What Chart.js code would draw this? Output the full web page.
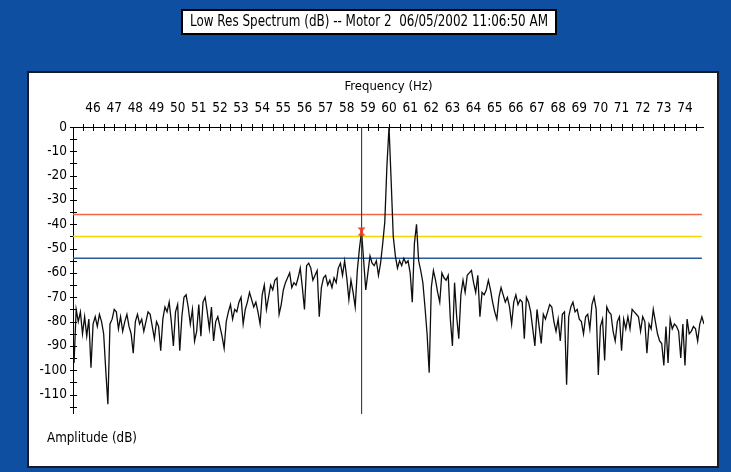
<!DOCTYPE html>
<html>
<head>
<meta charset="utf-8">
<script src="https://cdn.jsdelivr.net/npm/chart.js@4.4.1/dist/chart.umd.min.js"></script>
<style>
  html, body { margin: 0; padding: 0; background: #0f4fa2; overflow: hidden; }
  #wrap { width: 731px; height: 472px; }
  canvas { display: block; }
</style>
</head>
<body>
<div id="wrap"><canvas id="spectrum" width="731" height="472"></canvas></div>
<script>
// ---- chart text ----
const chartTitle = 'Low Res Spectrum (dB) -- Motor 2  06/05/2002 11:06:50 AM';
const xAxisTitle = 'Frequency (Hz)';
const yAxisTitle = 'Amplitude (dB)';

// ---- axis ticks ----
const freqTickLabels = [46, 47, 48, 49, 50, 51, 52, 53, 54, 55, 56, 57, 58, 59, 60,
                        61, 62, 63, 64, 65, 66, 67, 68, 69, 70, 71, 72, 73, 74];
const ampTickLabels = [0, -10, -20, -30, -40, -50, -60, -70, -80, -90, -100, -110];
const freqRangeHz = [45.05, 74.9];
const ampRangeDb = [-118, 0];

// ---- spectrum: 0.1 Hz bins starting at 45.1 Hz ----
const firstBinHz = 45.1;
const binWidthHz = 0.1;
const amplitudeDb = [
  -97, -75, -80, -76, -85, -78, -86, -79, -99, -81,
  -78, -82, -77, -80, -85, -100, -114, -81, -79, -75,
  -76, -83, -78, -84, -80, -77, -82, -85, -93, -80,
  -77, -81, -79, -84, -80, -76, -77, -82, -87, -80,
  -82, -92, -79, -74, -76, -72, -80, -90, -76, -73,
  -92, -78, -70, -69, -74, -81, -75, -88, -84, -73,
  -86, -72, -70, -76, -83, -74, -88, -80, -78, -82,
  -86, -91, -80, -76, -73, -79, -75, -76, -72, -70,
  -81, -75, -72, -68, -71, -74, -72, -76, -81, -69,
  -65, -75, -70, -65, -67, -63, -62, -77, -73, -67,
  -64, -62, -60, -66, -64, -65, -62, -58, -66, -75,
  -57, -56, -58, -63, -61, -59, -78, -66, -62, -61,
  -65, -63, -66, -62, -64, -58, -56, -61, -55, -62,
  -71, -63, -68, -74, -59, -50, -43, -55, -67, -60,
  -53, -56, -57, -55, -61, -56, -48, -39, -16, 0,
  -22, -45, -53, -58, -55, -57, -54, -56, -55, -60,
  -72, -48, -40, -55, -59, -64, -74, -85, -101, -66,
  -59, -63, -68, -72, -60, -62, -63, -61, -79, -90,
  -64, -78, -87, -69, -63, -68, -61, -60, -59, -64,
  -68, -61, -78, -68, -69, -67, -63, -67, -72, -76,
  -79, -70, -66, -69, -72, -70, -74, -81, -72, -69,
  -73, -71, -72, -87, -70, -72, -76, -83, -90, -75,
  -82, -89, -77, -79, -76, -73, -74, -80, -84, -79,
  -88, -77, -76, -106, -78, -74, -72, -76, -75, -79,
  -80, -85, -78, -77, -83, -73, -70, -75, -102, -82,
  -79, -96, -74, -76, -77, -84, -88, -80, -78, -92,
  -79, -83, -78, -83, -75, -76, -77, -78, -84, -78,
  -80, -93, -81, -83, -75, -80, -85, -88, -89, -98,
  -82, -97, -79, -83, -81, -82, -84, -95, -81, -98,
  -79, -85, -84, -82, -83, -88, -81, -78, -81
];

// ---- alarm bands and cursor ----
const alarmLevelsDb = [-36, -45, -54];
const alarmColors = ['#f2673f', '#f6d500', '#2b5a9a'];
const cursorHz = 58.7;
const cursorDb = -43;

const FONT = "'Liberation Sans Narrow', 'Arial Narrow', 'DejaVu Sans Condensed', 'Liberation Sans', sans-serif";

const spectrumPoints = amplitudeDb.map((db, i) => ({
  x: Math.round((firstBinHz + i * binWidthHz) * 100) / 100,
  y: db
}));

// small red hourglass used as the cursor marker
function makeMarker() {
  const c = document.createElement('canvas');
  c.width = 9; c.height = 9;
  const g = c.getContext('2d');
  g.fillStyle = '#e8412b';
  g.beginPath(); g.moveTo(0.5, 0.5); g.lineTo(8.5, 0.5); g.lineTo(4.5, 4.5); g.closePath(); g.fill();
  g.beginPath(); g.moveTo(0.5, 8.5); g.lineTo(8.5, 8.5); g.lineTo(4.5, 4.5); g.closePath(); g.fill();
  g.fillRect(3, 3, 3, 3);
  return c;
}

// draws text squeezed horizontally to a target width
function fillFitted(ctx, text, cx, cy, width) {
  const w = ctx.measureText(text).width;
  const k = Math.min(1, width / w);
  ctx.save();
  ctx.translate(cx, cy);
  ctx.scale(k, 1);
  ctx.fillText(text, 0, 0);
  ctx.restore();
}

// window frame, panel, title box and the crossing axis ticks
const framePlugin = {
  id: 'frame',
  beforeDraw(chart) {
    const ctx = chart.ctx;
    ctx.save();
    ctx.fillStyle = '#0f4fa2';
    ctx.fillRect(0, 0, chart.width, chart.height);
    ctx.fillStyle = '#ffffff';
    ctx.fillRect(28, 72, 690, 395);
    ctx.strokeStyle = '#141b2c';
    ctx.lineWidth = 2;
    ctx.strokeRect(28, 72, 690, 395);

    ctx.fillStyle = '#ffffff';
    ctx.fillRect(182, 10, 374, 24);
    ctx.strokeStyle = '#000000';
    ctx.lineWidth = 2;
    ctx.strokeRect(182, 10, 374, 24);
    ctx.fillStyle = '#000000';
    ctx.font = '15px ' + FONT;
    ctx.textAlign = 'center';
    ctx.textBaseline = 'middle';
    fillFitted(ctx, chartTitle, 369, 22.5, 358);

    ctx.font = '14px ' + FONT;
    ctx.textAlign = 'left';
    fillFitted(ctx, yAxisTitle, 47, 438, 90);
    ctx.restore();
  },
  beforeDatasetsDraw(chart) {
    const { ctx, chartArea: a, scales: { x, y } } = chart;
    ctx.save();
    ctx.strokeStyle = '#000000';
    ctx.lineWidth = 1;
    ctx.beginPath();
    ctx.moveTo(a.left, a.top + 0.5); ctx.lineTo(a.right, a.top + 0.5);
    ctx.moveTo(a.left + 0.5, a.top); ctx.lineTo(a.left + 0.5, a.bottom);
    for (let f = 45.5; f <= 74.51; f += 0.5) {
      const px = Math.round(x.getPixelForValue(f)) + 0.5;
      ctx.moveTo(px, a.top - 3); ctx.lineTo(px, a.top + 4);
    }
    for (let d = 0; d >= -115; d -= 5) {
      const py = Math.round(y.getPixelForValue(d)) + 0.5;
      ctx.moveTo(a.left - 3, py); ctx.lineTo(a.left + 4, py);
    }
    ctx.stroke();
    ctx.restore();
  }
};

const datasets = [
  {
    label: 'cursor point',
    data: [{ x: cursorHz, y: cursorDb }],
    showLine: false,
    pointStyle: makeMarker(),
    pointRadius: 4,
    order: 0
  },
  {
    label: 'cursor',
    data: [{ x: cursorHz, y: ampRangeDb[1] }, { x: cursorHz, y: ampRangeDb[0] - 0.5 }],
    borderColor: '#1f5526',
    borderWidth: 1,
    pointRadius: 0,
    order: 1
  },
  {
    label: 'spectrum',
    data: spectrumPoints,
    borderColor: '#0d0d0d',
    borderWidth: 1.3,
    pointRadius: 0,
    tension: 0,
    order: 2
  }
];
alarmLevelsDb.forEach((lvl, i) => {
  datasets.push({
    label: 'alarm ' + lvl,
    data: [{ x: freqRangeHz[0], y: lvl }, { x: 74.8, y: lvl }],
    borderColor: alarmColors[i],
    borderWidth: 1.5,
    pointRadius: 0,
    order: 3 + i
  });
});

new Chart(document.getElementById('spectrum'), {
  type: 'line',
  data: { datasets },
  options: {
    responsive: false,
    animation: false,
    devicePixelRatio: 1,
    layout: { padding: { top: 74, right: 27, bottom: 58, left: 0 } },
    plugins: { legend: { display: false }, tooltip: { enabled: false } },
    elements: { line: { fill: false } },
    scales: {
      x: {
        type: 'linear',
        position: 'top',
        min: freqRangeHz[0],
        max: freqRangeHz[1],
        afterBuildTicks: s => { s.ticks = freqTickLabels.map(v => ({ value: v })); },
        afterFit: s => { s.height = 53; },
        grid: { display: false, drawTicks: false },
        border: { display: false },
        ticks: {
          color: '#000', padding: 10, maxRotation: 0, autoSkip: false,
          font: { family: FONT, size: 13.5 },
          callback: v => String(v)
        },
        title: {
          display: true, text: xAxisTitle, color: '#000',
          font: { family: FONT, size: 13 }, padding: { top: 5, bottom: 0 }
        }
      },
      y: {
        type: 'linear',
        min: ampRangeDb[0],
        max: ampRangeDb[1],
        afterBuildTicks: s => { s.ticks = ampTickLabels.map(v => ({ value: v })); },
        afterFit: s => { s.width = 73; },
        grid: { display: false, drawTicks: false },
        border: { display: false },
        ticks: {
          color: '#000', padding: 6, autoSkip: false,
          font: { family: FONT, size: 13.5 },
          callback: v => String(v)
        }
      }
    }
  },
  plugins: [framePlugin]
});
</script>
</body>
</html>
